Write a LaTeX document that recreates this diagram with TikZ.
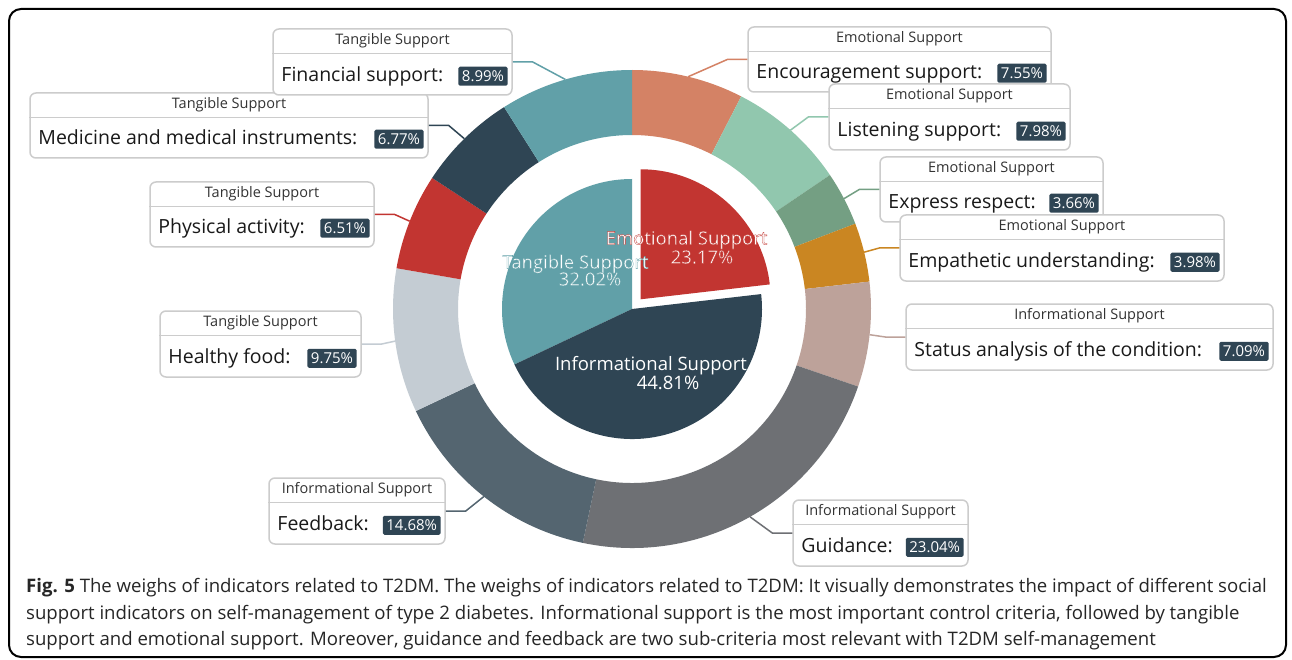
\documentclass[tikz,border=0pt]{standalone}
\usepackage{fontspec}
\setmainfont{Open Sans}
\usetikzlibrary{positioning,calc}
\definecolor{emored}{HTML}{C23531}
\definecolor{infonavy}{HTML}{2F4554}
\definecolor{tangteal}{HTML}{61A0A8}
\definecolor{encsalmon}{HTML}{D48265}
\definecolor{lismint}{HTML}{91C7AE}
\definecolor{expgreen}{HTML}{749F83}
\definecolor{empgold}{HTML}{CA8622}
\definecolor{stataupe}{HTML}{BDA29A}
\definecolor{guigray}{HTML}{6E7074}
\definecolor{feeslate}{HTML}{546570}
\definecolor{healight}{HTML}{C4CCD3}
\definecolor{boxgray}{HTML}{CCCCCC}

% white text with a thin coloured rim (pdf text render mode: fill + stroke)
\newcommand{\rimtext}[2]{%
  \special{pdf:literal direct #1 RG 2 Tr 0.3 w}#2\special{pdf:literal direct 0 Tr 0.3985 w}}

\begin{document}
\begin{tikzpicture}[x=1pt, y=1pt,
    lblbox/.style={draw=boxgray, line width=1.5pt, rounded corners=6pt, fill=white, inner sep=0pt},
    header/.style={font=\fontsize{14.5}{16}\selectfont, text=black!80, inner sep=0pt, anchor=base},
    itemtext/.style={font=\fontsize{19.5}{22}\selectfont, text=black!90, inner sep=0pt, anchor=base west},
    badge/.style={fill=infonavy, text=white, font=\fontsize{15}{16}\selectfont, inner xsep=3.5pt, inner ysep=0pt, minimum height=19pt, rounded corners=1.5pt, anchor=east},
    pielabel/.style={font=\fontsize{18.5}{20}\selectfont, text=white, inner sep=0pt, anchor=base},
    caption/.style={font=\fontsize{18.6}{22}\selectfont, text=black!85, inner sep=0pt, anchor=base west},
    leader/.style={line width=1.5pt}
]

% === LAYOUT (1pt = 1px of the 1292x660 frame, y runs downwards as -y) ===
% Donut centre: (632,-309), outer ring r=174..239, inner pie r=130
% Label boxes: fixed corners, leader lines go box -> 20pt -> ring mid point

\fill[white] (0,0) rectangle (1292,-660);
\useasboundingbox (0,0) rectangle (1292,-660);
\draw[line width=2pt, rounded corners=12pt] (9,-9) rectangle (1286,-657);

\coordinate (ctr) at (632,-309);

% Outer ring: sub-criteria, clockwise from 12 o'clock
\foreach \nm/\s/\e/\col in {enc/0/7.55/encsalmon, lis/7.55/15.53/lismint, exp/15.53/19.19/expgreen,
    emp/19.19/23.17/empgold, sta/23.17/30.26/stataupe, gui/30.26/53.30/guigray,
    fee/53.30/67.98/feeslate, hea/67.98/77.73/healight, phy/77.73/84.24/emored,
    med/84.24/91.01/infonavy, fin/91.01/100/tangteal} {
    \pgfmathsetmacro\a{90-3.6*\s}
    \pgfmathsetmacro\b{90-3.6*\e}
    \pgfmathsetmacro\m{(\a+\b)/2}
    \fill[\col] ($(ctr)+(\a:239)$) arc[start angle=\a, end angle=\b, radius=239]
        -- ($(ctr)+(\b:174)$) arc[start angle=\b, end angle=\a, radius=174] -- cycle;
    \coordinate (p-\nm) at ($(ctr)+(\m:239)$);
}

% Inner pie: main criteria (emotional slice pulled out)
\fill[tangteal] (ctr) -- ($(ctr)+(90:130)$) arc[start angle=90, end angle=205.272, radius=130] -- cycle;
\fill[infonavy] (ctr) -- ($(ctr)+(205.272:130)$) arc[start angle=205.272, end angle=366.588, radius=130] -- cycle;
\coordinate (emoctr) at ($(ctr)+(48.3:13)$);
\fill[emored] (emoctr) -- ($(emoctr)+(6.588:130)$) arc[start angle=6.588, end angle=90, radius=130] -- cycle;

% Pie labels
\node[pielabel] (emo-name) at (686.5,-244.6) {\rimtext{0.76 0.21 0.19}{Emotional Support}};
\node[pielabel] (emo-pct) at (702,-263.6) {\rimtext{0.76 0.21 0.19}{23.17\%}};
\node[pielabel] (tan-name) at (575.5,-268.6) {\rimtext{0.38 0.63 0.66}{Tangible Support}};
\node[pielabel] (tan-pct) at (590,-285.6) {\rimtext{0.38 0.63 0.66}{32.02\%}};
\node[pielabel] (inf-name) at (651,-370.6) {Informational Support};
\node[pielabel] (inf-pct) at (668,-389.6) {44.81\%};

% Label boxes and leader lines
\foreach \nm/\xa/\ya/\xb/\yb/\col/\sd/\dx/\hd/\tx/\pc in {
    med/30/93/428/158/infonavy/east/20/Tangible Support/Medicine and medical instruments:/6.77\%,
    fin/273/29/512/95/tangteal/east/20/Tangible Support/Financial support:/8.99\%,
    phy/150/182/374/247/emored/east/20/Tangible Support/Physical activity:/6.51\%,
    hea/160/311/361/377/healight/east/20/Tangible Support/Healthy food:/9.75\%,
    fee/269/478/445/544/feeslate/east/20/Informational Support/Feedback:/14.68\%,
    gui/793/500/968/566/guigray/west/-20/Informational Support/Guidance:/23.04\%,
    enc/748/27/1051/92/encsalmon/west/-20/Emotional Support/Encouragement support:/7.55\%,
    lis/829/84/1070/150/lismint/west/-20/Emotional Support/Listening support:/7.98\%,
    exp/880/157/1103/222/expgreen/west/-20/Emotional Support/Express respect:/3.66\%,
    emp/900/215/1224/281/empgold/west/-20/Emotional Support/Empathetic understanding:/3.98\%,
    sta/906/304/1273/370/stataupe/west/-20/Informational Support/Status analysis of the condition:/7.09\%} {
    \pgfmathsetmacro\w{\xb-\xa}
    \pgfmathsetmacro\h{\yb-\ya}
    \pgfmathsetmacro\cx{(\xa+\xb)/2}
    \pgfmathsetmacro\cy{-(\ya+\yb)/2}
    \node[lblbox, minimum width=\w pt, minimum height=\h pt] (\nm) at (\cx,\cy) {};
    \draw[leader, \col] (\nm.\sd) -- ++(\dx,0) -- (p-\nm);
    \draw[boxgray, line width=1.2pt] ([yshift=-25pt]\nm.north west) -- ([yshift=-25pt]\nm.north east);
    \node[header] (\nm-hd) at ([yshift=-16pt]\nm.north) {\hd};
    \node[itemtext] (\nm-tx) at ([xshift=9pt,yshift=14pt]\nm.south west) {\tx};
    \node[badge] (\nm-pc) at ([xshift=-5pt,yshift=19.5pt]\nm.south east) {\pc};
}

% Caption
\node[caption] (cap1) at (26,-592) {\textbf{Fig. 5} The weighs of indicators related to T2DM. The weighs of indicators related to T2DM: It visually demonstrates the impact of different social};
\node[caption] (cap2) at (26,-619) {support indicators on self-management of type 2 diabetes. Informational support is the most important control criteria, followed by tangible};
\node[caption] (cap3) at (26,-645) {support and emotional support. Moreover, guidance and feedback are two sub-criteria most relevant with T2DM self-management};

\end{tikzpicture}
\end{document}
